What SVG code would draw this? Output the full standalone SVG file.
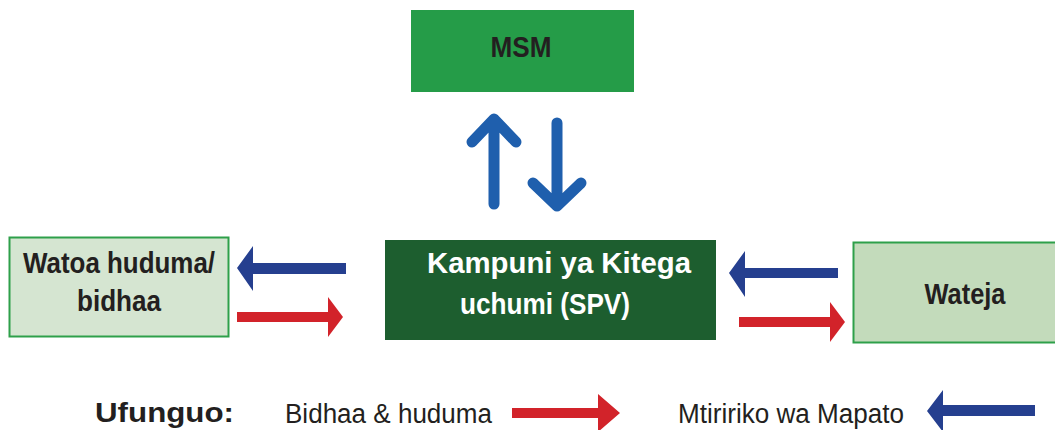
<svg xmlns="http://www.w3.org/2000/svg" width="1055" height="430" viewBox="0 0 1055 430">
<style>
.lbl{font-family:"Liberation Sans",Arial,sans-serif;font-weight:bold;fill:#231f20;text-anchor:middle;font-size:30px}
.wt{fill:#ffffff}
.leg{font-family:"Liberation Sans",Arial,sans-serif;fill:#231f20;font-size:27px}
.red{fill:#d2232a}
.blue{fill:#253f8f}
.vert{stroke:#1f5fad;stroke-width:11;fill:none;stroke-linecap:round;stroke-linejoin:round}
</style>
<g id="msm">
<rect x="411" y="10" width="223" height="82" fill="#259c48"/>
<text class="lbl" x="521" y="57" font-size="28" textLength="61" lengthAdjust="spacingAndGlyphs">MSM</text>
</g>
<g id="watoa">
<rect x="9.5" y="237.5" width="219" height="99" fill="#d5e5d1" stroke="#2ea04a" stroke-width="2"/>
<text class="lbl" x="119" y="273" textLength="192" lengthAdjust="spacingAndGlyphs">Watoa huduma/</text>
<text class="lbl" x="119" y="311" textLength="84" lengthAdjust="spacingAndGlyphs">bidhaa</text>
</g>
<g id="spv">
<rect x="385" y="240" width="331" height="100" fill="#1d5e2f"/>
<text class="lbl wt" x="559" y="273" textLength="264" lengthAdjust="spacingAndGlyphs">Kampuni ya Kitega</text>
<text class="lbl wt" x="545" y="314" textLength="170" lengthAdjust="spacingAndGlyphs">uchumi (SPV)</text>
</g>
<g id="wateja">
<rect x="853.5" y="242.5" width="205" height="100" fill="#c3dbbb" stroke="#2ea04a" stroke-width="2"/>
<text class="lbl" x="965" y="304" textLength="81" lengthAdjust="spacingAndGlyphs">Wateja</text>
</g>
<g id="connectors">
<path class="vert" d="M494 204V120M472 142L494 119L516 142"/>
<path class="vert" d="M557 123V204M533 183L557 206L581 183"/>
<polygon class="blue" points="346,263 253,263 253,246 237,268 253,291 253,274 346,274"/>
<polygon class="red" points="237,312 328,312 328,297 343,317 328,337 328,322 237,322"/>
<polygon class="blue" points="838,268 745,268 745,251 729,273 745,297 745,278 838,278"/>
<polygon class="red" points="739,317 830,317 830,302 845,322 830,342 830,327 739,327"/>
</g>
<g id="legend">
<text class="leg" x="95" y="422" font-weight="bold" font-size="30" textLength="139" lengthAdjust="spacingAndGlyphs">Ufunguo:</text>
<text class="leg" x="285" y="423" textLength="207" lengthAdjust="spacingAndGlyphs">Bidhaa &amp; huduma</text>
<polygon class="red" points="512,408 598,408 598,394 620,413 598,432 598,418 512,418"/>
<text class="leg" x="678" y="423" textLength="226" lengthAdjust="spacingAndGlyphs">Mtiririko wa Mapato</text>
<polygon class="blue" points="1035,405 943,405 943,390 927,411 943,432 943,416 1035,416"/>
</g>
</svg>
